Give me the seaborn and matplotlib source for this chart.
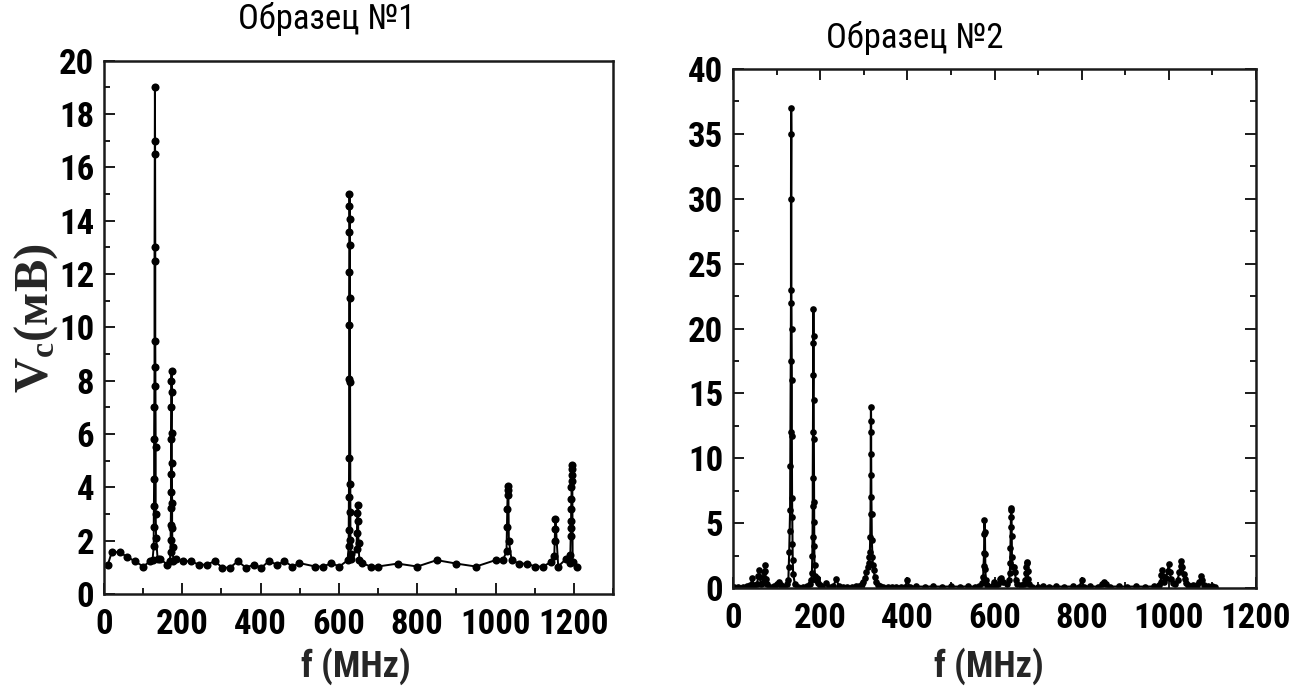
import matplotlib
matplotlib.use("Agg")
import matplotlib.pyplot as plt
from matplotlib import font_manager
from matplotlib.ticker import MultipleLocator
import seaborn as sns

# ---------------- data: sample 1 ----------------
f1 = [9, 20, 40, 59, 79, 100, 118, 124,
      127, 127, 127.5, 128, 128, 128.5, 129, 129, 129.5, 130,
      130.5, 131, 131, 131.5, 132, 132, 133, 137, 143,
      162, 168,
      170, 170, 170.5, 171, 171, 171, 171.5, 172, 172, 172.5,
      173, 173, 173.5, 174, 174, 175, 177, 183,
      202, 221, 243, 262, 283, 302, 322, 342, 362, 383, 402, 421, 443,
      461, 481, 499, 540, 560, 581, 601, 622,
      625, 625, 625.5, 626, 626, 626, 626.5, 627, 627, 627, 627.5,
      628, 628, 628.5, 629, 629, 629.5, 630, 632,
      645, 646, 647, 648, 649, 650, 652, 659,
      681, 699, 750, 800, 850, 900, 950, 1000, 1019,
      1028, 1029, 1030, 1031, 1032, 1033, 1034, 1041,
      1060, 1080, 1101, 1121, 1142,
      1150, 1151, 1152, 1153, 1160, 1179,
      1190, 1191, 1192, 1192, 1193, 1193, 1194, 1194, 1194.5, 1195, 1195, 1196,
      1197, 1207]
v1 = [1.07, 1.57, 1.57, 1.39, 1.23, 1.03, 1.23, 1.28,
      1.8, 2.5, 3.3, 4.3, 5.8, 7.0, 8.5, 12.5, 16.5, 19.0,
      17.0, 13.0, 9.5, 7.8, 5.5, 3.0, 2.1, 1.3, 1.32,
      1.1, 1.25,
      1.58, 2.02, 2.6, 3.21, 3.82, 4.51, 5.8, 7.0, 7.99, 8.38,
      7.59, 6.03, 4.91, 3.43, 2.47, 1.78, 1.25, 1.32,
      1.23, 1.23, 1.1, 1.1, 1.23, 0.99, 0.99, 1.23, 0.99, 1.1, 0.99, 1.23, 1.1,
      1.23, 1.03, 1.16, 1.03, 1.03, 1.16, 1.03, 1.26,
      1.79, 2.39, 3.63, 5.1, 8.07, 10.07, 12.07, 13.57, 14.56, 15.0, 14.06,
      13.07, 11.1, 7.95, 4.14, 3.07, 2.04, 1.5, 1.3,
      1.67, 2.29, 3.04, 3.35, 2.73, 1.92, 1.29, 1.16,
      1.03, 1.03, 1.14, 1.03, 1.27, 1.14, 1.03, 1.27, 1.27,
      1.6, 2.5, 3.2, 3.9, 4.06, 3.7, 2.0, 1.27,
      1.14, 1.14, 1.03, 1.03, 1.2,
      1.43, 2.0, 2.43, 2.83, 1.03, 1.3,
      1.17, 1.48, 2.18, 2.49, 2.74, 3.2, 3.56, 4.0, 4.25, 4.46, 4.67, 4.84,
      1.2, 1.03]

# ---------------- data: sample 2 ----------------
f2 = [2, 12, 22, 32,
      40, 44, 48, 55, 58, 60, 62, 64, 68, 71, 72, 73, 74, 75, 77,
      85, 95, 102, 105.5, 109, 118, 125,
      127, 128, 129, 130, 131, 131.5, 132, 132.5, 133, 133, 133.5,
      134, 134, 134.5, 135, 135, 135.5, 136, 136.5, 137, 138,
      142, 150, 160, 170, 177,
      180, 181, 182, 182.5, 183, 183, 183.5, 184, 184, 184.5,
      185, 185, 185.5, 186, 186, 186.5, 187, 188, 190, 193, 196, 200,
      205, 213, 220, 230, 237, 243, 252, 262, 272, 282, 290,
      295, 299, 303, 306, 309, 311, 313, 314, 315, 315.5, 316, 316, 316.5,
      317, 317, 317.5, 318, 318.5, 320, 321, 323, 325, 328, 332, 337,
      345, 355, 365, 375, 385, 395, 400, 405, 420, 440, 460, 480, 500, 520,
      540, 555, 565,
      571, 574, 575, 576, 576.5, 577, 578, 578.5, 579, 580, 583, 590,
      599, 602, 609, 613, 616, 620, 628,
      633, 635, 636, 636.5, 637, 637.5, 638, 639, 639.5, 640, 642, 645, 647,
      649, 652, 660,
      668, 671, 672, 673, 674, 675, 676, 677, 680, 687,
      700, 712, 725, 740, 760, 780, 795, 800, 805, 820, 838, 846, 851, 856,
      865, 885, 905, 925, 945, 965, 978,
      981, 983, 985, 987, 990, 994, 997, 1000, 1002, 1005, 1010, 1015, 1020,
      1024, 1027, 1029, 1031, 1034, 1037, 1040, 1045, 1055, 1065, 1070, 1073,
      1076, 1080, 1090, 1100, 1105]
v2 = [0.1, 0.1, 0.1, 0.12,
      0.2, 0.74, 0.2, 0.3, 0.9, 1.38, 0.87, 0.3, 0.4, 0.8, 1.26, 1.77, 1.3, 0.7, 0.3,
      0.1, 0.12, 0.3, 0.49, 0.2, 0.1, 0.3,
      0.6, 1.6, 2.8, 4.4, 6.0, 9.4, 12.0, 17.5, 22.0, 30.0, 37.0,
      35.0, 23.0, 20.0, 16.0, 11.7, 6.95, 5.5, 3.4, 2.15, 1.1,
      0.3, 0.1, 0.1, 0.15, 0.3,
      0.6, 1.13, 2.5, 3.95, 6.3, 8.5, 12.0, 16.4, 18.9, 21.5,
      19.4, 14.5, 11.5, 6.6, 5.1, 3.2, 1.77, 0.9, 0.6, 0.8, 0.4, 0.2,
      0.1, 0.36, 0.1, 0.15, 0.67, 0.15, 0.1, 0.1, 0.1, 0.12, 0.15,
      0.3, 0.5, 0.8, 1.2, 1.6, 1.9, 2.4, 2.8, 3.95, 5.7, 8.7, 12.0, 13.95,
      12.9, 10.3, 7.0, 5.7, 3.7, 2.4, 1.77, 1.38, 0.87, 0.49, 0.25, 0.12,
      0.1, 0.1, 0.1, 0.1, 0.1, 0.1, 0.6, 0.1, 0.12, 0.1, 0.12, 0.1, 0.12, 0.1,
      0.12, 0.1, 0.15,
      0.36, 0.87, 1.72, 2.67, 4.2, 5.23, 4.3, 2.6, 1.5, 0.6, 0.2, 0.1,
      0.5, 0.1, 0.3, 0.7, 0.8, 0.5, 0.3,
      0.62, 1.13, 1.9, 3.1, 4.72, 5.49, 6.13, 6.0, 4.0, 2.41, 1.64, 1.64, 1.2,
      0.62, 0.3, 0.2,
      0.3, 0.62, 1.13, 1.64, 2.03, 1.9, 1.3, 0.7, 0.3, 0.1,
      0.1, 0.12, 0.1, 0.12, 0.1, 0.12, 0.1, 0.6, 0.1, 0.12, 0.1, 0.3, 0.45, 0.3,
      0.1, 0.12, 0.1, 0.12, 0.1, 0.12, 0.2,
      0.5, 1.0, 1.4, 0.9, 0.5, 0.8, 1.3, 1.85, 1.2, 0.7, 0.4, 0.3, 0.6,
      1.2, 1.7, 2.1, 1.6, 1.1, 0.7, 0.4, 0.25, 0.2, 0.2, 0.5, 0.9,
      0.6, 0.25, 0.15, 0.15, 0.05]

titles = ["Образец №1", "Образец №2"]
xlabel = "f (MHz)"

# ---------------- fonts: prefer a narrow sans ----------------
ttf = font_manager.fontManager.ttflist
names = {f.name for f in ttf}


def pick_narrow():
    for nm in ["Liberation Sans Narrow", "Arial Narrow", "Roboto Condensed",
               "Open Sans Condensed", "Noto Sans Condensed"]:
        if nm in names:
            return nm, "normal"
    for fam in ["Noto Sans", "Open Sans", "Roboto", "DejaVu Sans"]:
        for f in ttf:
            if f.name == fam and str(f.stretch) in ("condensed", "semi-condensed"):
                return fam, "condensed"
    return "Liberation Sans", "normal"


NARROW, STRETCH = pick_narrow()
FAM = [NARROW, "Liberation Sans", "DejaVu Sans"]

sns.set_theme(style="white")
plt.rcParams["font.family"] = FAM
plt.rcParams["mathtext.fontset"] = "custom"
plt.rcParams["mathtext.rm"] = "Liberation Serif"
plt.rcParams["mathtext.bf"] = "Liberation Serif:bold"
plt.rcParams["mathtext.it"] = "Liberation Serif:italic"

fig = plt.figure(figsize=(13.03, 7.0), dpi=100)
fig.patch.set_facecolor("white")
ax1 = fig.add_axes([104 / 1303, 1 - 594 / 700, 509 / 1303, 533.3 / 700])
ax2 = fig.add_axes([733 / 1303, 1 - 588 / 700, 523 / 1303, 519 / 700])

sns.lineplot(x=f1, y=v1, ax=ax1, sort=False, estimator=None, color="black",
             linewidth=1.4, marker="o", markersize=5.8, markeredgewidth=0)
sns.lineplot(x=f2, y=v2, ax=ax2, sort=False, estimator=None, color="black",
             linewidth=1.5, marker="o", markersize=4.8, markeredgewidth=0)

ax1.set_xlim(0, 1300)
ax1.set_ylim(0, 20)
ax1.set_xticks(range(0, 1201, 200))
ax1.xaxis.set_minor_locator(MultipleLocator(100))
ax1.set_yticks(range(0, 21, 2))
ax1.yaxis.set_minor_locator(MultipleLocator(1))

ax2.set_xlim(0, 1200)
ax2.set_ylim(0, 40)
ax2.set_xticks(range(0, 1201, 200))
ax2.xaxis.set_minor_locator(MultipleLocator(100))
ax2.set_yticks(range(0, 41, 5))
ax2.yaxis.set_minor_locator(MultipleLocator(2.5))

big = 25 if STRETCH == "condensed" or NARROW != "Liberation Sans" else 23
for ax, both in ((ax1, False), (ax2, True)):
    ax.set_facecolor("white")
    for s in ax.spines.values():
        s.set_linewidth(1.8)
        s.set_color("#1a1a1a")
        s.set_visible(True)
    ax.tick_params(which="both", direction="in", color="#1a1a1a", width=1.4,
                   top=both, right=both, bottom=True, left=True,
                   labeltop=False, labelright=False)
    ax.tick_params(which="major", length=8)
    ax.tick_params(which="minor", length=4.5)
    ax.tick_params(axis="x", which="major", pad=10)
    ax.tick_params(axis="y", which="major", pad=7)
    for lab in ax.get_xticklabels() + ax.get_yticklabels():
        lab.set_fontsize(big)
        lab.set_fontweight("bold")
        lab.set_fontfamily(FAM)
        lab.set_fontstretch(STRETCH)
        lab.set_color("black")
    ax.set_xlabel("")
    ax.set_ylabel("")
    ax.grid(False)

fig.text(327 / 1303, 1 - 19 / 700, titles[0], ha="center", va="center",
         fontsize=25, family=FAM, stretch=STRETCH, color="black")
fig.text(915 / 1303, 1 - 38 / 700, titles[1], ha="center", va="center",
         fontsize=25, family=FAM, stretch=STRETCH, color="black")
fig.text(356 / 1303, 1 - 666 / 700, xlabel, ha="center", va="center",
         fontsize=26, fontweight="bold", family=FAM, stretch=STRETCH)
fig.text(989 / 1303, 1 - 666 / 700, xlabel, ha="center", va="center",
         fontsize=26, fontweight="bold", family=FAM, stretch=STRETCH)
fig.text(36 / 1303, 1 - 318 / 700, r"$\mathbf{V}_{\mathbf{c}}$(мВ)", rotation=90,
         ha="center", va="center", fontsize=35, fontweight="bold",
         family=["Liberation Serif", "DejaVu Serif"])

fig.savefig("out.png", dpi=100, facecolor="white")
